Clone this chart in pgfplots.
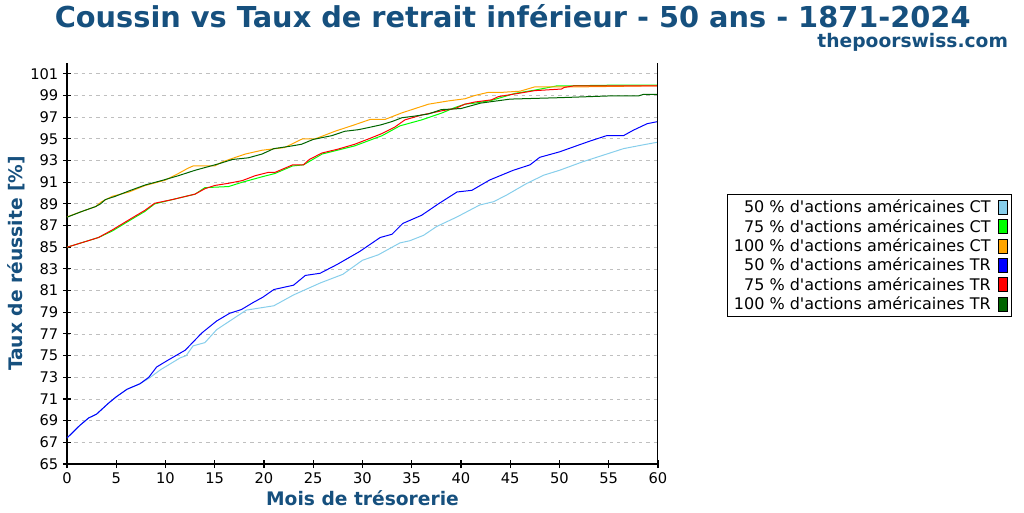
\documentclass[border=0pt]{standalone}
\usepackage{fontspec}
\setmainfont{DejaVu Sans}
\usepackage{pgfplots}
\pgfplotsset{compat=1.18}
\definecolor{titleblue}{RGB}{22,80,126}
\definecolor{ctfifty}{RGB}{135,206,235}
\definecolor{ctseventy}{RGB}{0,255,0}
\definecolor{cthundred}{RGB}{255,165,0}
\definecolor{trfifty}{RGB}{0,0,255}
\definecolor{trseventy}{RGB}{255,0,0}
\definecolor{trhundred}{RGB}{0,100,0}
\newcommand{\q}{\textquotesingle}

\begin{document}
\begin{tikzpicture}
\path[use as bounding box] (0,0) rectangle (768pt,384pt);
\node[font=\fontsize{21.6}{24}\selectfont\bfseries, text=titleblue] at (384.5pt,371.5pt) {Coussin vs Taux de retrait inférieur - 50 ans - 1871-2024};
\node[font=\fontsize{14}{16}\selectfont\bfseries, text=titleblue, anchor=east] at (759.5pt,352.5pt) {thepoorswiss.com};
\begin{axis}[
  at={(50.25pt,36pt)}, anchor=south west,
  scale only axis, width=443.25pt, height=300.75pt,
  xmin=0, xmax=60, ymin=65, ymax=102,
  xtick={0,5,...,60}, ytick={65,67,...,101},
  axis x line*=bottom, axis y line*=left,
  axis line style={line width=0.8pt, -},
  tick align=center, major tick length=6pt,
  tick style={line width=0.8pt, black},
  ymajorgrids=true,
  grid style={dash pattern=on 2.5pt off 3pt, color=black!25, line width=0.6pt},
  tick label style={font=\fontsize{11}{13}\selectfont},
  /pgf/number format/assume math mode=true,
  xlabel={Mois de trésorerie},
  ylabel={Taux de réussite [\%]},
  label style={font=\fontsize{14}{16}\selectfont\bfseries, text=titleblue},
  xlabel style={yshift=2pt},
  ylabel style={yshift=-3pt},
  legend cell align=right,
  legend plot pos=right,
  legend style={at={(1.599,0.673)}, anchor=north east, draw=black, line width=0.8pt,
    font=\fontsize{12}{13.5}\selectfont, row sep=-0.6pt, inner xsep=3pt, inner ysep=2pt},
  legend image code/.code={\path[draw=none, fill=none] (0pt,0pt) -- (10.3pt,0pt); \draw[#1, fill, draw=black, line width=0.6pt] (3.5pt,-5.2pt) rectangle (10.3pt,5.2pt);},
  every axis plot/.append style={line width=0.75pt}
]
\addplot[color=ctfifty] coordinates {
(0,67.4)(1.3,68.56)(2.2,69.25)(3,69.6)(4.2,70.6)(5,71.2)(6.1,71.9)(7.4,72.4)(8.3,72.9)(9.5,73.7)(11.5,74.8)(12.1,75.0)(12.8,75.9)(14,76.2)(15.2,77.4)(17.2,78.6)(18.2,79.2)(21,79.6)(23,80.6)(25.7,81.7)(28,82.5)(30,83.8)(31.6,84.3)(33.8,85.4)(34.8,85.6)(36.2,86.1)(37.5,86.9)(39.6,87.8)(41.9,88.9)(43.3,89.2)(44.6,89.8)(46.7,90.9)(48.4,91.65)(50,92.1)(52.4,92.9)(54.8,93.6)(56.5,94.1)(58.5,94.45)(60,94.7)
};
\addlegendentry{50 \% d\q actions américaines CT}
\addplot[color=ctseventy] coordinates {
(0,85.0)(2.5,85.7)(3.2,85.9)(4.6,86.5)(6.6,87.6)(7.9,88.3)(8.9,89.0)(10.7,89.4)(13,89.9)(14,90.5)(16.4,90.6)(17.8,91.0)(19.8,91.5)(21.1,91.8)(22.9,92.5)(24,92.6)(25.9,93.6)(29.2,94.35)(32,95.3)(33.8,96.2)(36,96.75)(38.1,97.4)(39.4,97.9)(40.4,98.2)(41.4,98.3)(43.1,98.55)(45.5,99.2)(47.5,99.5)(49.8,99.9)(51.3,99.9)(55,99.95)(60,99.95)
};
\addlegendentry{75 \% d\q actions américaines CT}
\addplot[color=cthundred] coordinates {
(0,87.8)(1.5,88.3)(2.9,88.75)(3.5,89.2)(4.6,89.7)(6.3,90.1)(7.95,90.7)(10,91.2)(11.3,91.8)(12.3,92.3)(12.8,92.5)(15,92.5)(15.7,92.85)(16.8,93.2)(18.1,93.6)(19.8,93.95)(22.1,94.2)(23.9,95.0)(25.2,95.0)(27.2,95.7)(29.2,96.3)(30.8,96.8)(32.3,96.8)(34,97.4)(36.7,98.2)(38.7,98.5)(40.4,98.7)(41.4,99.0)(42.8,99.3)(44.3,99.3)(46,99.4)(47.5,99.8)(52.3,99.8)(60,99.9)
};
\addlegendentry{100 \% d\q actions américaines CT}
\addplot[color=trfifty] coordinates {
(0,67.4)(1.3,68.56)(2.2,69.25)(3,69.6)(4.2,70.6)(5,71.2)(6.1,71.9)(7.4,72.4)(8.3,73.0)(9.1,73.95)(10.1,74.5)(12,75.5)(13.7,77.1)(15.2,78.2)(16.5,78.9)(17.7,79.25)(18.9,79.9)(19.9,80.4)(21,81.1)(23,81.5)(24.2,82.4)(25.7,82.6)(27.4,83.4)(29.7,84.6)(31.8,85.9)(33,86.2)(34.1,87.2)(36,87.95)(37.7,89.0)(39.6,90.1)(41.1,90.25)(42.9,91.2)(45.3,92.1)(47,92.6)(48,93.3)(50,93.8)(51.7,94.35)(53.1,94.8)(54.8,95.3)(56.5,95.3)(57.5,95.8)(58.9,96.4)(60,96.6)
};
\addlegendentry{50 \% d\q actions américaines TR}
\addplot[color=trseventy] coordinates {
(0,85.0)(2.5,85.7)(3.2,85.9)(4.6,86.6)(6.6,87.7)(7.9,88.4)(8.9,89.06)(10.7,89.4)(13,89.9)(14,90.4)(15,90.7)(16.4,90.9)(17.8,91.15)(19.1,91.6)(20.4,91.9)(21.1,91.9)(22.9,92.6)(24,92.6)(24.6,93.1)(25.9,93.7)(27.5,94.05)(29.2,94.5)(30.8,95.06)(32,95.5)(33.3,96.1)(34.3,96.75)(36,97.2)(38.1,97.6)(39.4,97.8)(40.4,98.2)(41.4,98.4)(43.1,98.6)(43.8,98.9)(45.5,99.15)(46.5,99.3)(47.5,99.45)(50.2,99.6)(50.5,99.75)(51.5,99.9)(60,99.9)
};
\addlegendentry{75 \% d\q actions américaines TR}
\addplot[color=trhundred] coordinates {
(0,87.77)(1.5,88.3)(2.9,88.75)(3.4,89.0)(3.9,89.4)(4.9,89.7)(6.3,90.2)(7.95,90.75)(9.6,91.15)(11.3,91.6)(13,92.1)(14,92.35)(15.4,92.7)(16.8,93.1)(18.4,93.25)(19.8,93.6)(21,94.1)(22.5,94.3)(23.8,94.5)(25,94.95)(26.9,95.3)(28.2,95.7)(29.6,95.85)(30.9,96.1)(31.9,96.3)(33,96.6)(34,96.95)(35.3,97.1)(36.7,97.3)(38,97.7)(40,97.8)(42,98.3)(45,98.67)(50,98.8)(55,98.96)(58,98.96)(58.5,99.1)(60,99.1)
};
\addlegendentry{100 \% d\q actions américaines TR}
\draw[line width=0.8pt] (rel axis cs:1,0) -- (rel axis cs:1,1);
\end{axis}
\end{tikzpicture}
\end{document}
